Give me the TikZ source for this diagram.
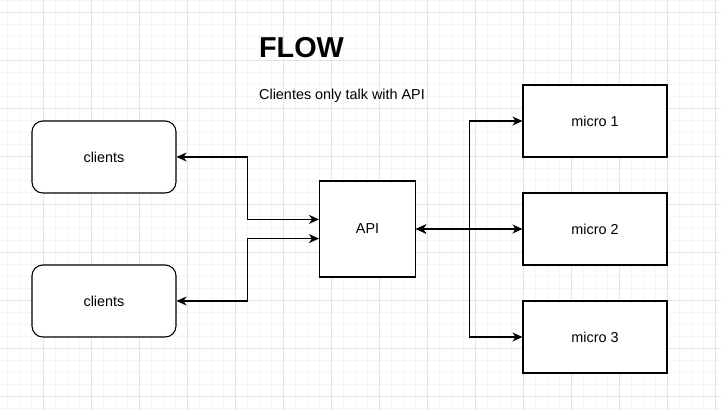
\documentclass[tikz,border=0pt]{standalone}
\usepackage{fontspec}
\setmainfont{Liberation Sans}
\usetikzlibrary{arrows.meta}
\definecolor{gridminor}{HTML}{F5F5F5}
\definecolor{gridmajor}{HTML}{E4E4E4}
\begin{document}
\begin{tikzpicture}[x=1pt,y=-1pt,
  box/.style={draw=black, line width=1.1pt, fill=white, inner sep=0pt,
    minimum width=144pt, minimum height=72pt,
    font=\fontsize{14.4}{17}\selectfont},
  roundbox/.style={box, rounded corners=10.8pt},
  conn/.style={draw=black, line width=1.1pt,
    {Stealth[length=10pt,width=9pt,inset=3pt]}-{Stealth[length=10pt,width=9pt,inset=3pt]}},
  labeltext/.style={inner sep=0pt, font=\fontsize{14.4}{17}\selectfont},
]
\useasboundingbox (0,0) rectangle (721,411);
\fill[white] (0,0) rectangle (721,411);
% grid
\foreach \x in {7,19,...,721} \draw[gridminor, line width=0.8pt] (\x,0) -- (\x,411);
\foreach \y in {0,12,...,411} \draw[gridminor, line width=0.8pt] (0,\y) -- (721,\y);
\foreach \x in {43,91,...,721} \draw[gridmajor, line width=0.8pt] (\x,0) -- (\x,411);
\foreach \y in {12,60,...,411} \draw[gridmajor, line width=0.8pt] (0,\y) -- (721,\y);

% title texts
\node[inner sep=0pt, font=\bfseries\fontsize{28.8}{34}\selectfont] (title) at (301.5,47.5) {FLOW};
\node[labeltext, anchor=base west] (subtitle) at (259,99.5) {Clientes only talk with API};

% boxes
\node[roundbox] (clients1) at (104,157) {clients};
\node[roundbox] (clients2) at (104,301) {clients};
\node[box, minimum width=96pt, minimum height=96pt] (api) at (367.5,229) {API};
\node[box] (micro1) at (595,121) {micro 1};
\node[box] (micro2) at (595,229) {micro 2};
\node[box] (micro3) at (595,337) {micro 3};

% junction coordinates
\coordinate (jl) at (247.5,0);
\coordinate (jr) at (469.5,0);

% connectors
\draw[conn] (clients1.east) -- (clients1.east -| jl) |- ([yshift=9.6pt]api.west);
\draw[conn] (clients2.east) -- (clients2.east -| jl) |- ([yshift=-9.6pt]api.west);
\draw[conn] (api.east) -- (micro2.west);
\draw[conn] (api.east) -- (api.east -| jr) |- (micro1.west);
\draw[conn] (api.east) -- (api.east -| jr) |- (micro3.west);
\end{tikzpicture}
\end{document}
